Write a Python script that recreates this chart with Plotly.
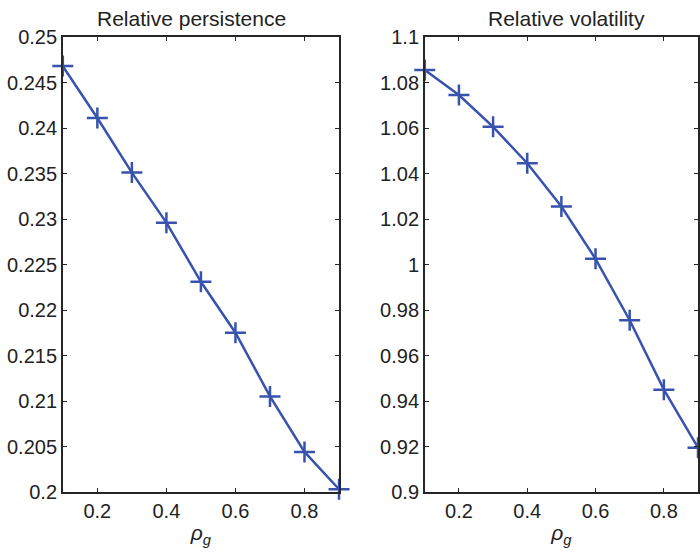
import plotly.graph_objects as go

rho = [0.1, 0.2, 0.3, 0.4, 0.5, 0.6, 0.7, 0.8, 0.9]
persistence = [0.2468, 0.2411, 0.2351, 0.2296, 0.2231, 0.2175, 0.2105, 0.2044, 0.2003]
volatility = [1.0855, 1.0745, 1.0605, 1.0445, 1.0255, 1.0025, 0.9755, 0.9450, 0.9195]
x_ticks = [0.2, 0.4, 0.6, 0.8]
x_labels = ["0.2", "0.4", "0.6", "0.8"]
y1_ticks = [0.2, 0.205, 0.21, 0.215, 0.22, 0.225, 0.23, 0.235, 0.24, 0.245, 0.25]
y1_labels = ["0.2", "0.205", "0.21", "0.215", "0.22", "0.225", "0.23", "0.235", "0.24", "0.245", "0.25"]
y2_ticks = [0.9, 0.92, 0.94, 0.96, 0.98, 1.0, 1.02, 1.04, 1.06, 1.08, 1.1]
y2_labels = ["0.9", "0.92", "0.94", "0.96", "0.98", "1", "1.02", "1.04", "1.06", "1.08", "1.1"]
titles = ["Relative persistence", "Relative volatility"]

COLOR = "#3753ad"
FONT = "Liberation Sans, Arial, sans-serif"
TXT = "#222222"

fig = go.Figure()
for xs, ys, xa, ya in [(rho, persistence, "x", "y"), (rho, volatility, "x2", "y2")]:
    fig.add_trace(go.Scatter(x=xs, y=ys, mode="lines+markers",
                             line=dict(color=COLOR, width=2.5),
                             marker=dict(symbol="cross-thin", size=15, line=dict(color=COLOR, width=2.5)),
                             xaxis=xa, yaxis=ya, showlegend=False, cliponaxis=False))

axcommon = dict(showgrid=False, zeroline=False, showline=True, linecolor="#262626", linewidth=1.5,
                mirror="allticks", ticks="inside", ticklen=4, tickcolor="#262626",
                tickfont=dict(family=FONT, size=20, color=TXT))

xtitle = dict(text="<i>ρ<sub>g</sub></i>", font=dict(family=FONT, size=21, color=TXT), standoff=5)

L0, L1, R0 = 63, 340, 426

fig.update_layout(
    width=700, height=557,
    margin=dict(l=0, r=0, t=37, b=65),
    paper_bgcolor="white", plot_bgcolor="white",
    xaxis=dict(domain=[L0 / 700, L1 / 700], range=[0.1, 0.9], tickvals=x_ticks,
               ticktext=x_labels, title=xtitle, anchor="y", **axcommon),
    yaxis=dict(range=[0.2, 0.25], tickvals=y1_ticks, ticktext=y1_labels, anchor="x", **axcommon),
    xaxis2=dict(domain=[R0 / 700, 1.0], range=[0.1, 0.9], tickvals=x_ticks,
                ticktext=x_labels, title=xtitle, anchor="y2", **axcommon),
    yaxis2=dict(range=[0.9, 1.1], tickvals=y2_ticks, ticktext=y2_labels, anchor="x2", **axcommon),
    annotations=[
        dict(text=titles[0], x=192 / 700, y=1, xref="paper", yref="paper",
             xanchor="center", yanchor="bottom", yshift=5, showarrow=False,
             font=dict(family=FONT, size=21, color=TXT)),
        dict(text=titles[1], x=568 / 700, y=1, xref="paper", yref="paper",
             xanchor="center", yanchor="bottom", yshift=5, showarrow=False,
             font=dict(family=FONT, size=21, color=TXT)),
    ],
)

fig.write_html("out.html", config={"displayModeBar": False},
               post_script="document.body.style.margin='0px';document.body.style.overflow='hidden';")
